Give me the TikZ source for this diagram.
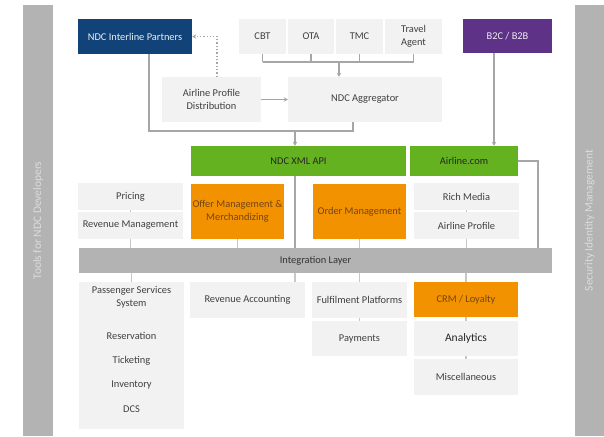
\documentclass[tikz,border=0pt]{standalone}
\usepackage{fontspec}
\setmainfont{Carlito}
\usetikzlibrary{arrows.meta}

\definecolor{boxgray}{HTML}{F2F2F2}
\definecolor{bargray}{HTML}{B3B3B3}
\definecolor{bartext}{HTML}{DCDCDC}
\definecolor{textgray}{HTML}{404040}
\definecolor{linegray}{HTML}{A6A6A6}
\definecolor{tiegray}{HTML}{C8C8C8}
\definecolor{ndcblue}{HTML}{114278}
\definecolor{b2cpurple}{HTML}{5E3287}
\definecolor{apigreen}{HTML}{64B21F}
\definecolor{offerorange}{HTML}{F39200}
\definecolor{orangetext}{HTML}{74450F}

\tikzset{
  box/.style={inner sep=1pt, align=center, font=\fontsize{10.4}{12.5}\selectfont},
  lightbox/.style={box, fill=boxgray, text=textgray},
  bluebox/.style={box, fill=ndcblue, text=white!92!ndcblue},
  purplebox/.style={box, fill=b2cpurple, text=white!90!b2cpurple},
  greenbox/.style={box, fill=apigreen, text=black!85},
  orangebox/.style={box, fill=offerorange, text=orangetext},
  layerbox/.style={box, fill=bargray, text=black!80},
  boxtext/.style={box, text=textgray},
  sidebar/.style={fill=bargray, text=bartext, rotate=90, inner sep=0pt,
    font=\fontsize{11.5}{13}\selectfont},
  link/.style={draw=linegray, line width=1.3pt},
  feed/.style={link, -{Stealth[length=4pt, width=4.5pt]}},
  hint/.style={feed, dotted},
  tie/.style={draw=tiegray, line width=1.1pt}
}

\begin{document}
\begin{tikzpicture}[x=1pt, y=-1pt]
\useasboundingbox (0,0) rectangle (604,436);

% Side bars
\node[sidebar, minimum width=431, minimum height=30] (tools) at (38,220.5) {Tools for NDC Developers};
\node[sidebar, minimum width=431, minimum height=29] (security) at (589.5,220.5) {Security Identity Management};

% Top row: partners and sales channels
\node[bluebox, minimum width=114, minimum height=35] (partners) at (135,36.5) {NDC Interline Partners};
\node[lightbox, minimum width=47, minimum height=35] (cbt) at (262.5,36.5) {CBT};
\node[lightbox, minimum width=46, minimum height=35] (ota) at (311,36.5) {OTA};
\node[lightbox, minimum width=47, minimum height=35] (tmc) at (359.5,36.5) {TMC};
\node[lightbox, minimum width=57, minimum height=35] (agent) at (413.5,36.5) {Travel\\Agent};
\node[purplebox, minimum width=89, minimum height=34] (b2c) at (507.5,36) {B2C / B2B};

% Distribution
\node[lightbox, minimum width=99, minimum height=45] (profiledist) at (211.5,99.5) {Airline Profile\\Distribution};
\node[lightbox, minimum width=154, minimum height=45] (aggregator) at (365,99.5) {NDC Aggregator};

% Entry points
\node[greenbox, minimum width=215, minimum height=30] (xmlapi) at (298.5,161) {NDC XML API};
\node[greenbox, minimum width=108, minimum height=30] (webshop) at (464,161) {Airline.com};

% Airline services
\node[lightbox, minimum width=105, minimum height=27] (pricing) at (130.5,196.5) {Pricing};
\node[lightbox, minimum width=105, minimum height=27] (revman) at (130.5,225.5) {Revenue Management};
\node[orangebox, minimum width=93, minimum height=55] (offer) at (237.5,211.5) {Offer Management \&\\Merchandizing};
\node[orangebox, minimum width=93, minimum height=55] (order) at (359.5,211.5) {Order Management};
\node[lightbox, minimum width=105, minimum height=27] (richmedia) at (466.5,196.5) {Rich Media};
\node[lightbox, minimum width=105, minimum height=27] (profile) at (466.5,225.5) {Airline Profile};

\node[layerbox, minimum width=473, minimum height=25] (integration) at (315.5,260.5) {Integration Layer};

% Back end
\node[lightbox, minimum width=105, minimum height=147] (pss) at (131.5,355.5) {};
\node[boxtext] (psstitle) at (131.5,297.5) {Passenger Services\\System};
\node[boxtext] (reservation) at (131.5,336) {Reservation};
\node[boxtext] (ticketing) at (131.5,360.5) {Ticketing};
\node[boxtext] (inventory) at (131.5,385) {Inventory};
\node[boxtext] (dcs) at (131.5,409) {DCS};
\node[lightbox, minimum width=115, minimum height=36] (revacc) at (247.5,300) {Revenue Accounting};
\node[lightbox, minimum width=95, minimum height=36] (fulfil) at (359.5,300) {Fulfilment Platforms};
\node[lightbox, minimum width=95, minimum height=35] (payments) at (359.5,338.5) {Payments};
\node[orangebox, minimum width=104, minimum height=35] (crm) at (466,299.5) {CRM / Loyalty};
\node[lightbox, minimum width=104, minimum height=35, text=black!85, font=\fontsize{11.5}{13}\selectfont] (analytics) at (466,338.5) {Analytics};
\node[lightbox, minimum width=104, minimum height=36] (misc) at (466,377) {Miscellaneous};

% Channels into the aggregator
\coordinate (channels) at (339,62);
\foreach \n in {cbt,ota,tmc,agent}
  \draw[link] (\n.south) -- (\n.south |- channels);
\draw[link] (cbt.south |- channels) -- (agent.south |- channels);
\draw[feed] (channels) -- (channels |- aggregator.north);
\draw[feed] (profiledist) -- (aggregator);
\draw[hint] ([xshift=5.5pt]profiledist.north) |- (partners.east);

% Into the XML API and the web shop
\coordinate (merge) at (295,131);
\draw[link] ([xshift=14pt]partners.south) |- (merge);
\draw[link] ([xshift=-12pt]aggregator.south) |- (merge);
\draw[feed] (merge) -- (merge |- xmlapi.north);
\draw[feed] ([xshift=-13.5pt]b2c.south) -- ([xshift=-13.5pt]b2c.south |- webshop.north);
\coordinate (webturn) at (538,161);
\draw[link] (webshop.east) -- (webturn) -- (webturn |- integration.north);
\draw[link] (merge |- xmlapi.south) -- (merge |- integration.north);
\draw[tie] (merge |- integration.south) -- (merge |- revacc.north);

% Ties to the integration layer
\foreach \a/\b in {pricing/revman, revman/integration, offer/integration,
    order/integration, richmedia/profile, profile/integration}
  \draw[tie] (\a.south) -- (\a.south |- \b.north);
\foreach \a/\b in {integration/pss, integration/fulfil, integration/crm,
    fulfil/payments, crm/analytics, analytics/misc}
  \draw[tie] (\b.north |- \a.south) -- (\b.north);
\end{tikzpicture}
\end{document}
